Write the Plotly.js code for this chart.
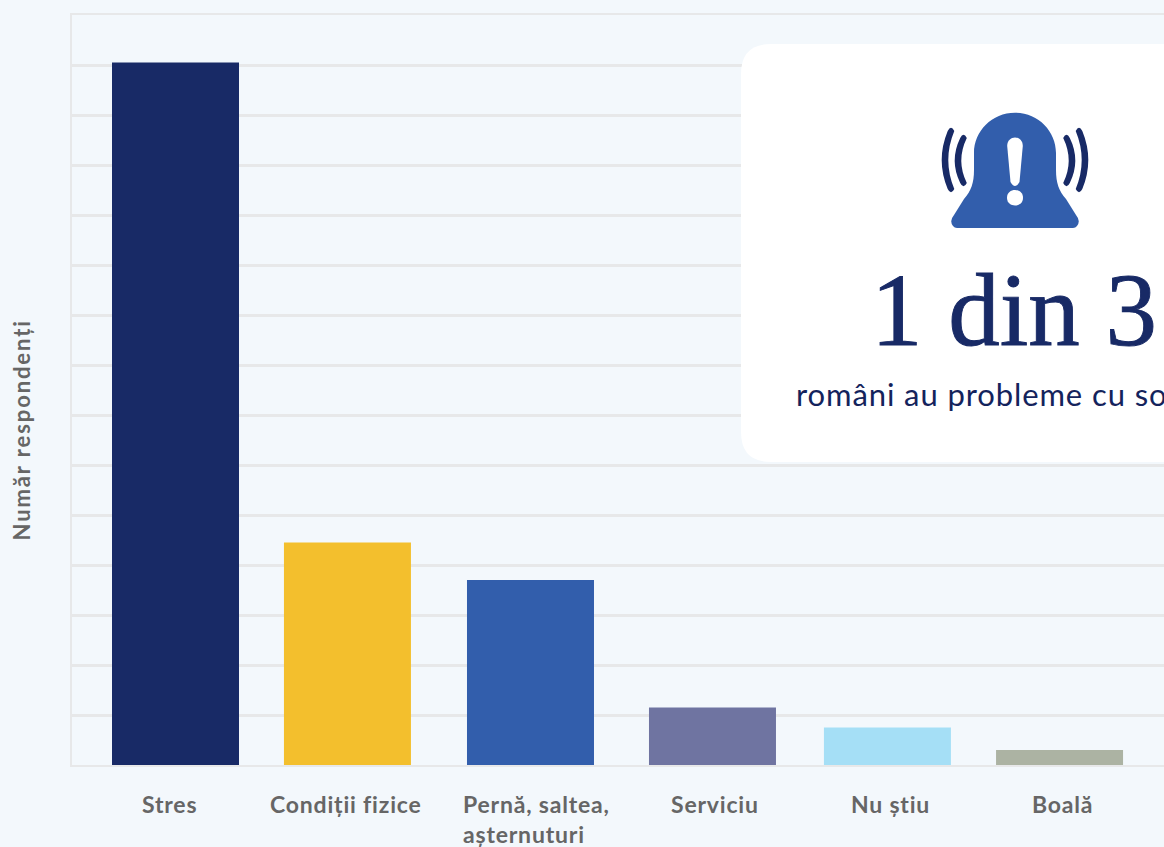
<!DOCTYPE html>
<html lang="ro">
<head>
<meta charset="utf-8">
<title>Cauzele problemelor de somn</title>
<script src="https://cdn.plot.ly/plotly-3.0.1.min.js"></script>
<style>
  html, body { margin: 0; padding: 0; background: #f3f8fc; overflow: hidden; }
  #chart { width: 1164px; height: 847px; }
  /* Slightly heavier strokes for the headline */
  .annotation[data-index="7"] text { stroke: #182a66; stroke-width: 0.9px; }
</style>
</head>
<body>
<div id="chart"></div>
<script>
// Responses per cause of poor sleep
const categories = ["Stres", "Condiții fizice", "Pernă, saltea,<br>așternuturi", "Serviciu", "Nu știu", "Boală"];
const respondents = [281, 89, 74, 23, 15, 6];
const barColors = ["#182a66", "#f3bf2d", "#325eac", "#6f74a1", "#a5dff6", "#acb3a3"];

// Horizontal placement, in category slots (the bars are not evenly spaced)
const barSlots = [0, 0.977, 2.017, 3.051, 4.045, 5.023];
const labelSlots = [-0.034, 0.968, 2.052, 3.063, 4.063, 5.037];

const W = 1164, H = 847;
const plot = { l: 72, r: 0, t: 15, b: 82 };
const plotW = W - plot.l - plot.r, plotH = H - plot.t - plot.b;

// Page pixels to paper fractions, for the card and its icon
const px = x => (x - plot.l) / plotW;
const py = y => 1 - (y - plot.t) / plotH;
const P = (x, y) => px(x) + "," + py(y);

const NAVY = "#182a66", BLUE = "#325eac";
const GRID = "#e7e8e9";

function filled(path, color) {
  return { type: "path", xref: "paper", yref: "paper", path, fillcolor: color,
           line: { width: 0 }, layer: "above" };
}

// Letter spacing per line, inside the text so that annotation boxes measure it
const tracked = (text, spacing) => text.split("<br>")
  .map(line => `<span style="letter-spacing:${spacing}px">${line}</span>`)
  .join("<br>");

// White card with rounded corners, running off the right edge of the page
const card = (() => {
  const l = 741, t = 44, b = 462, r = 1320, c = 30;
  return "M" + P(l + c, t) + " L" + P(r, t) + " L" + P(r, b) + " L" + P(l + c, b) +
         " Q" + P(l, b) + " " + P(l, b - c) + " L" + P(l, t + c) +
         " Q" + P(l, t) + " " + P(l + c, t) + " Z";
})();

// Alarm bell, symmetric about x = cx
const cx = 1015;
const bell = (() => {
  const R = d => cx + d, Lf = d => cx - d;
  return "M" + P(cx, 112.7) +
    " C" + P(R(23), 112.7) + " " + P(R(41), 131) + " " + P(R(41), 153) +
    " L" + P(R(41), 170) +
    " C" + P(R(41), 183) + " " + P(R(44), 191) + " " + P(R(51), 199) +
    " L" + P(R(61), 215) +
    " Q" + P(R(66), 221) + " " + P(R(62), 226) +
    " Q" + P(R(60.5), 228) + " " + P(R(58), 228) +
    " L" + P(Lf(58), 228) +
    " Q" + P(Lf(60.5), 228) + " " + P(Lf(62), 226) +
    " Q" + P(Lf(66), 221) + " " + P(Lf(61), 215) +
    " L" + P(Lf(51), 199) +
    " C" + P(Lf(44), 191) + " " + P(Lf(41), 183) + " " + P(Lf(41), 170) +
    " L" + P(Lf(41), 153) +
    " C" + P(Lf(41), 131) + " " + P(Lf(23), 112.7) + " " + P(cx, 112.7) + " Z";
})();

const bang = "M" + P(cx - 7.8, 146) +
  " C" + P(cx - 7.8, 134.5) + " " + P(cx + 7.8, 134.5) + " " + P(cx + 7.8, 146) +
  " L" + P(cx + 4.5, 182) +
  " Q" + P(cx, 190) + " " + P(cx - 4.5, 182) + " Z";

const bangDot = "M" + P(cx - 8, 197.7) +
  " C" + P(cx - 8, 187.5) + " " + P(cx + 8, 187.5) + " " + P(cx + 8, 197.7) +
  " C" + P(cx + 8, 208) + " " + P(cx - 8, 208) + " " + P(cx - 8, 197.7) + " Z";

// One sound arc with rounded ends; dir = -1 draws it left of the bell, +1 right
function wave(endOffset, bulgeOffset, y0, y1, dir) {
  const h = 3.3;
  const mid = (y0 + y1) / 2;
  const e = endOffset, c = 2 * bulgeOffset - endOffset;
  const X = d => cx + dir * d;
  return "M" + P(X(e + h), y0) +
    " Q" + P(X(c + h), mid) + " " + P(X(e + h), y1) +
    " Q" + P(X(e), y1 + 2 * h) + " " + P(X(e - h), y1) +
    " Q" + P(X(c - h), mid) + " " + P(X(e - h), y0) +
    " Q" + P(X(e), y0 - 2 * h) + " " + P(X(e + h), y0) + " Z";
}

const shapes = [
  filled(card, "#ffffff"),
  filled(bell, BLUE),
  filled(bang, "#ffffff"),
  filled(bangDot, "#ffffff"),
  filled(wave(64, 70, 131, 189, -1), NAVY),
  filled(wave(51.5, 57, 138, 183, -1), NAVY),
  filled(wave(64, 70, 131, 189, 1), NAVY),
  filled(wave(51.5, 57, 138, 183, 1), NAVY)
];

const tickFont = { family: "Lato, sans-serif", size: 23, color: "#666666", weight: 700 };

const annotations = categories.map((text, i) => ({
  text: tracked(text, 0.8), x: labelSlots[i], xref: "x",
  y: py(788), yref: "paper", yanchor: "top", xanchor: "center", align: "left",
  showarrow: false, font: tickFont
}));

annotations.push(
  { text: tracked("Număr respondenți", 1.9), xref: "paper", yref: "paper", x: px(20.5), y: py(430),
    textangle: -90, xanchor: "center", yanchor: "middle", showarrow: false,
    font: { family: "Lato, sans-serif", size: 22, color: "#666666", weight: 700 } },
  { text: "1 din 3", xref: "paper", yref: "paper", x: px(1014), y: py(309.5),
    xanchor: "center", yanchor: "middle", showarrow: false,
    font: { family: "Liberation Serif, serif", size: 103, color: NAVY } },
  { text: tracked("români au probleme cu somnul", 0.9), xref: "paper", yref: "paper", x: px(794), y: py(394),
    xanchor: "left", yanchor: "middle", showarrow: false,
    font: { family: "Lato, sans-serif", size: 31, color: "#14235c" } }
);

const bars = {
  type: "bar",
  x: barSlots,
  y: respondents,
  width: 0.7216,
  marker: { color: barColors, line: { width: 0 } },
  customdata: categories,
  hovertemplate: "%{customdata}: %{y}<extra></extra>"
};

const layout = {
  width: W, height: H,
  margin: plot,
  paper_bgcolor: "#f3f8fc",
  plot_bgcolor: "#f3f8fc",
  showlegend: false,
  xaxis: {
    type: "linear",
    range: [(plot.l - 175.5) / 176, (W - 175.5) / 176],
    showgrid: false, zeroline: false, showticklabels: false, ticks: "",
    showline: true, linecolor: GRID, linewidth: 2, mirror: true
  },
  yaxis: {
    range: [0, 300], dtick: 20,
    showgrid: true, gridcolor: GRID, gridwidth: 3,
    zeroline: false,
    showline: true, linecolor: GRID, linewidth: 2,
    showticklabels: false, ticks: ""
  },
  shapes,
  annotations
};

Plotly.newPlot("chart", [bars], layout, { displayModeBar: false, responsive: false });
</script>
</body>
</html>
